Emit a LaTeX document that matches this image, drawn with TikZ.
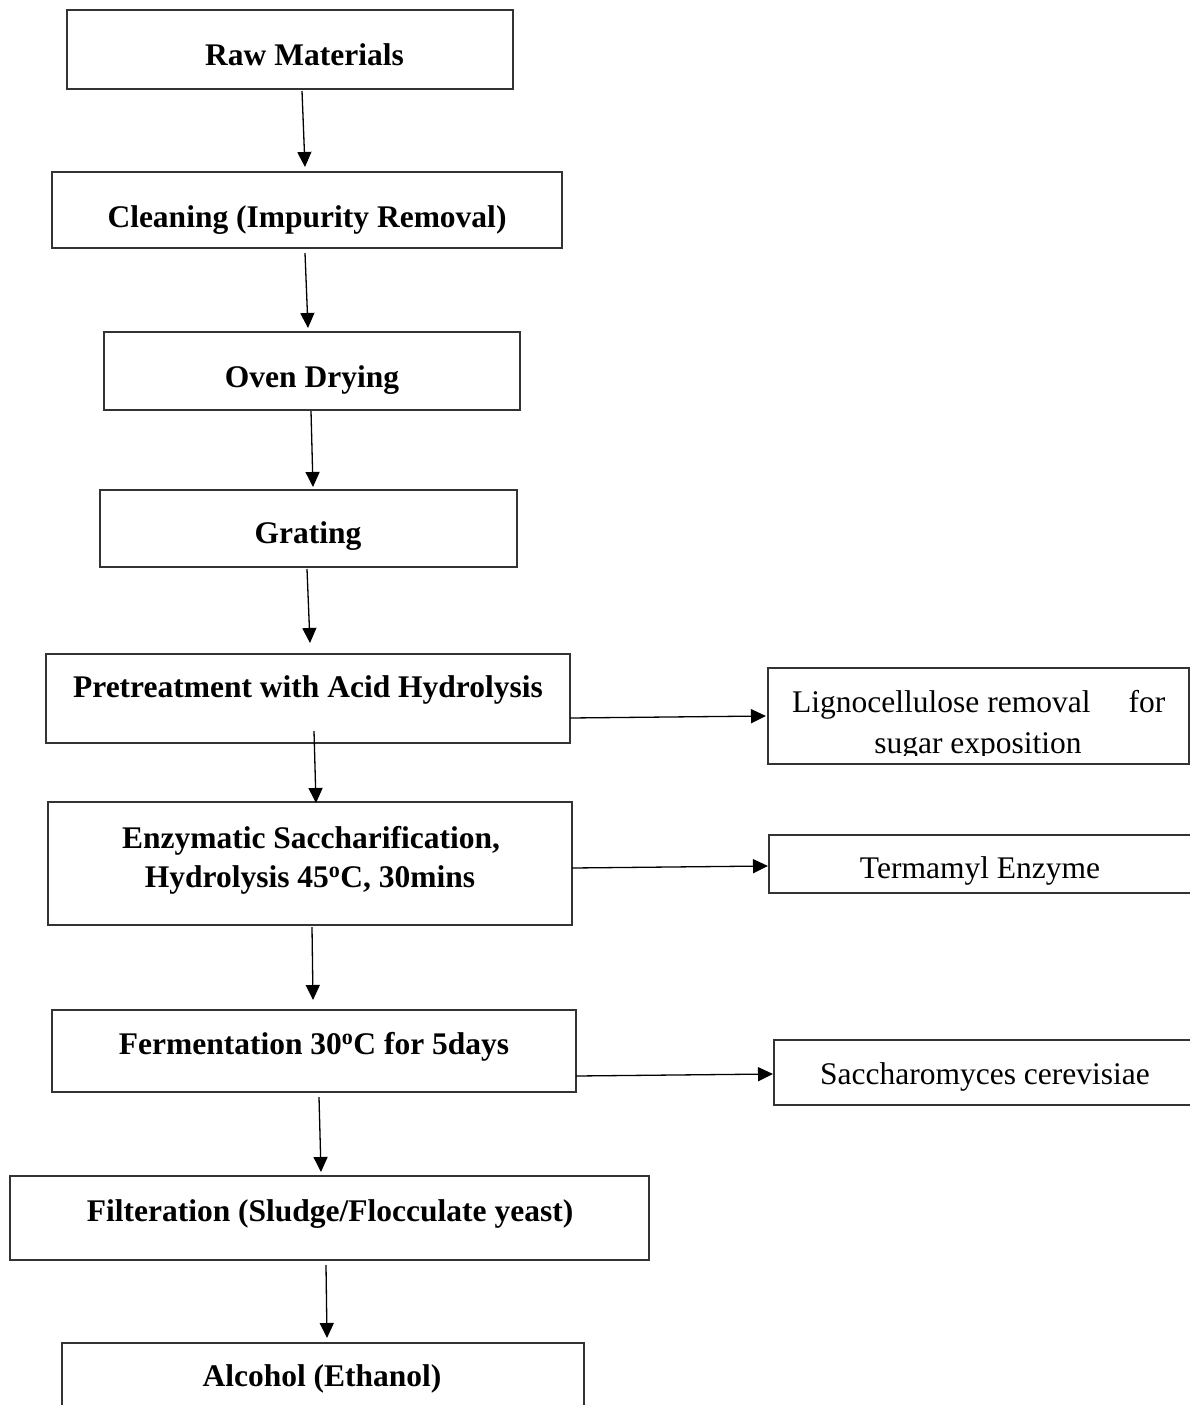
\documentclass[tikz,border=0pt]{standalone}
\usepackage{fontspec}
\setmainfont{Liberation Serif}
\usetikzlibrary{arrows.meta}
\begin{document}
\begin{tikzpicture}[x=1pt,y=-1pt,
  box/.style={draw=black!80,line width=1.3pt,inner sep=0pt,outer sep=0pt},
  btxt/.style={anchor=base,inner sep=0pt,font=\fontsize{31.5}{38}\selectfont\bfseries},
  rtxt/.style={anchor=base,inner sep=0pt,font=\fontsize{31.5}{38}\selectfont},
  arr/.style={line width=1.3pt,-{Triangle[length=15pt,width=14pt]}}]
\useasboundingbox[fill=white] (0,0) rectangle (1190,1405);
% main boxes
\node[box,minimum width=446,minimum height=79] (b1) at (290,49.5) {};
\node[box,minimum width=510,minimum height=76] (b2) at (307,210) {};
\node[box,minimum width=416,minimum height=78] (b3) at (312,371) {};
\node[box,minimum width=417,minimum height=77] (b4) at (308.5,528.5) {};
\node[box,minimum width=524,minimum height=89] (b5) at (308,698.5) {};
\node[box,minimum width=524,minimum height=123] (b6) at (310,863.5) {};
\node[box,minimum width=524,minimum height=82] (b7) at (314,1051) {};
\node[box,minimum width=639,minimum height=84] (b8) at (329.5,1218) {};
\node[box,minimum width=522,minimum height=69] (b9) at (323,1377.5) {};
% side boxes
\node[box,minimum width=421,minimum height=96] (r1) at (978.5,716) {};
\node[box,minimum width=427,minimum height=58] (r2) at (982.5,864) {};
\node[box,minimum width=422,minimum height=65] (r3) at (985,1072.5) {};
% texts
\node[btxt] (t1) at (304.5,66) {Raw Materials};
\node[btxt] (t2) at (307,227) {Cleaning (Impurity Removal)};
\node[btxt] (t3) at (312,387) {Oven Drying};
\node[btxt] (t4) at (308,543) {Grating};
\node[btxt] (t5) at (308,697) {Pretreatment with Acid Hydrolysis};
\node[btxt] (t6a) at (311,848) {Enzymatic Saccharification,};
\node[btxt] (t6b) at (310,887) {Hydrolysis 45\textsuperscript{o}C, 30mins};
\node[btxt] (t7) at (314,1054) {Fermentation 30\textsuperscript{o}C for 5days};
\node[btxt] (t8) at (330,1221) {Filteration (Sludge/Flocculate yeast)};
\node[btxt] (t9) at (322,1386) {Alcohol (Ethanol)};
\begin{scope}
\clip (769,669) rectangle (1188,755);
\node[rtxt,anchor=base west] (s1a) at (792,712) {\makebox[373pt][s]{Lignocellulose removal\hfill for}};
\node[rtxt] (s1b) at (978,753) {sugar exposition};
\end{scope}
\node[rtxt] (s2) at (980,878) {Termamyl Enzyme};
\node[rtxt] (s3) at (985,1084) {Saccharomyces cerevisiae};
% arrow endpoints
\coordinate (a1s) at (302,91);   \coordinate (a1e) at (305,167);
\coordinate (a2s) at (305,253);  \coordinate (a2e) at (308,328);
\coordinate (a3s) at (311,411);  \coordinate (a3e) at (313,487);
\coordinate (a4s) at (307,569);  \coordinate (a4e) at (310,643);
\coordinate (a5s) at (314,731);  \coordinate (a5e) at (316,803);
\coordinate (a6s) at (312,927);  \coordinate (a6e) at (313,1000);
\coordinate (a7s) at (319,1097); \coordinate (a7e) at (321,1172);
\coordinate (a8s) at (326,1265); \coordinate (a8e) at (327,1338);
\coordinate (h1s) at (570,718);  \coordinate (h1e) at (766,716);
\coordinate (h2s) at (572,868);  \coordinate (h2e) at (768,866);
\coordinate (h3s) at (576,1076); \coordinate (h3e) at (773,1074);
\foreach \a in {a1,a2,a3,a4,a5,a6,a7,a8,h1,h2,h3}
  \draw[arr] (\a s) -- (\a e);
\end{tikzpicture}
\end{document}
